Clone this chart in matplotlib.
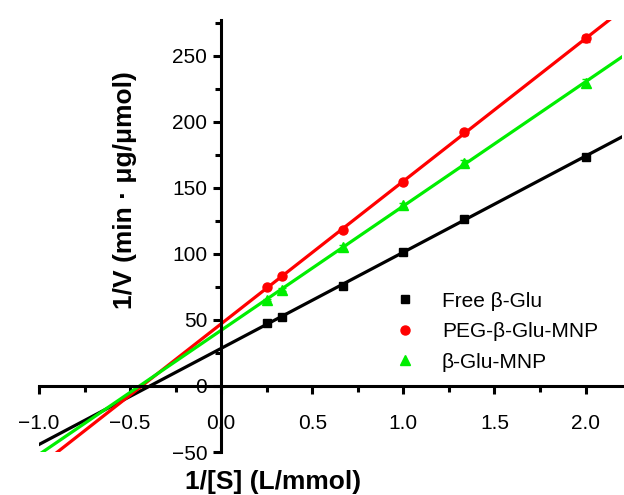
import matplotlib
matplotlib.use("Agg")
import matplotlib.pyplot as plt
import numpy as np
from matplotlib.ticker import FixedLocator

plt.rcParams['font.family'] = ['Liberation Sans', 'DejaVu Sans']

inv_s = [0.25, 0.333, 0.667, 1.0, 1.333, 2.0]
free = [47.5, 52, 76, 101.5, 126.5, 173.5]
peg = [75, 83, 118, 154, 192, 263]
mnp = [65, 73, 105, 137, 169, 229]
free_err = [1, 1, 1, 1, 1.5, 1.5]
peg_err = [1, 1, 1.5, 1.5, 2, 3]
mnp_err = [1, 1, 1.5, 1.5, 2, 3]
labels = ['Free β-Glu', 'PEG-β-Glu-MNP', 'β-Glu-MNP']
colors = ['#000000', '#ff0000', '#00ee00']
markers = ['s', 'o', '^']
msizes = [5.5, 6.5, 7.5]

fig = plt.figure(figsize=(6.24, 4.95), dpi=100)
ax = fig.add_axes([39/624, 1-452/495, 583/624, (452-20)/495])

xl = np.linspace(-1.0, 2.3, 50)
for y, e, c, m, ms, lab in zip([free, peg, mnp], [free_err, peg_err, mnp_err], colors, markers, msizes, labels):
    k, b = np.polyfit(inv_s, y, 1)
    ax.plot(xl, k*xl + b, color=c, lw=2.3, zorder=2)
    ax.errorbar(inv_s, y, yerr=e, fmt=m, color=c, ms=ms, capsize=3, elinewidth=1, zorder=3)
    ax.plot([], [], m, color=c, ms=ms, label=lab)

ax.set_xlim(-1.0, 2.2)
ax.set_ylim(-50, 277)
ax.spines['left'].set_position(('data', 0))
ax.spines['bottom'].set_position(('data', 0))
ax.spines['top'].set_visible(False)
ax.spines['right'].set_visible(False)
for s in ['left', 'bottom']:
    ax.spines[s].set_linewidth(2.2)

ax.xaxis.set_major_locator(FixedLocator([-1.0, -0.5, 0.0, 0.5, 1.0, 1.5, 2.0]))
ax.xaxis.set_minor_locator(FixedLocator([-0.75, -0.25, 0.25, 0.75, 1.25, 1.75]))
ax.yaxis.set_major_locator(FixedLocator([-50, 0, 50, 100, 150, 200, 250]))
ax.yaxis.set_minor_locator(FixedLocator([25, 75, 125, 175, 225, 275]))
ax.set_xticklabels(['−1.0', '−0.5', '0.0', '0.5', '1.0', '1.5', '2.0'])
ax.tick_params(axis='x', which='major', direction='out', length=6, width=2.2, labelsize=15, pad=14)
ax.tick_params(axis='x', which='minor', direction='out', length=4, width=2.2)
ax.tick_params(axis='y', which='major', direction='out', length=6, width=2.2, labelsize=15, pad=4)
ax.tick_params(axis='y', which='minor', direction='out', length=4, width=2.2)

fig.text(273/624, 1-482/495, '1/[S] (L/mmol)', fontsize=19, fontweight='bold', ha='center', va='center')
fig.text(125/624, 1-190/495, '1/V (min · μg/μmol)', fontsize=19, fontweight='bold', ha='center', va='center', rotation=90)

ax.legend(loc='upper left', bbox_to_anchor=(371/624, 1-273/495), bbox_transform=fig.transFigure,
          frameon=False, fontsize=15, handletextpad=1.0, labelspacing=0.55, handlelength=1.5)

fig.savefig('out.png', dpi=100)
